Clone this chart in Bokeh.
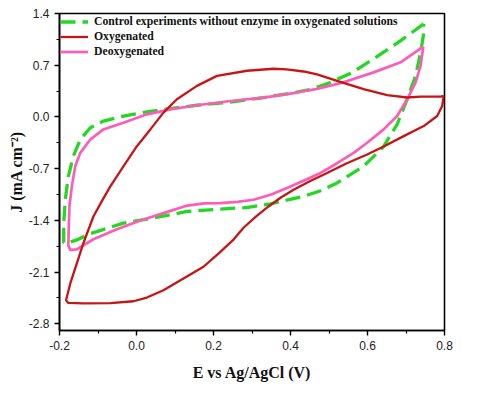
from bokeh.plotting import figure
from bokeh.models import Range1d, FixedTicker, Legend, LegendItem, CustomJSTickFormatter
from bokeh.embed import file_html
from bokeh.resources import INLINE

# Control experiments without enzyme (oxygenated) - dashed green loop
ctrl_E = [0.746, 0.72, 0.677, 0.62, 0.56, 0.50, 0.45, 0.40, 0.33, 0.244, 0.157, 0.088, 0.027, -0.034,
          -0.086, -0.120, -0.146, -0.164, -0.177, -0.185, -0.189, -0.189, -0.182, -0.155, -0.120, -0.103, -0.034,
          0.027, 0.088, 0.131, 0.218, 0.290, 0.348, 0.434, 0.478, 0.521, 0.59, 0.642, 0.677, 0.703,
          0.725, 0.738, 0.745, 0.746]
ctrl_J = [1.26, 1.16, 1.0, 0.80, 0.60, 0.46, 0.37, 0.32, 0.262, 0.20, 0.158, 0.113, 0.067, 0.012,
          -0.056, -0.146, -0.305, -0.532, -0.804, -1.121, -1.438, -1.70, -1.71, -1.665, -1.58, -1.552, -1.438,
          -1.384, -1.325, -1.28, -1.248, -1.225, -1.176, -1.076, -1.0, -0.894, -0.668, -0.40, -0.1, 0.239,
          0.557, 0.875, 1.1, 1.26]

# Oxygenated - red loop
oxy_E = [0.798, 0.790, 0.772, 0.738, 0.703, 0.651, 0.590, 0.521, 0.469, 0.434, 0.390, 0.356, 0.287, 0.209,
         0.157, 0.105, 0.070, 0.036, 0.001, -0.034, -0.068, -0.090, -0.112, -0.138, -0.155, -0.172,
         -0.183, -0.177, -0.138, -0.068, -0.008, 0.027, 0.070, 0.122, 0.174, 0.215, 0.252, 0.278, 0.310,
         0.343, 0.375, 0.408, 0.450, 0.495, 0.545, 0.599, 0.642, 0.694, 0.746, 0.781, 0.794, 0.798]
oxy_J = [0.284, 0.276, 0.276, 0.276, 0.263, 0.294, 0.376, 0.488, 0.575, 0.615, 0.645, 0.652, 0.625, 0.556,
         0.420, 0.239, 0.058, -0.169, -0.396, -0.668, -0.940, -1.14, -1.348, -1.710, -1.982, -2.254,
         -2.482, -2.518, -2.525, -2.52, -2.495, -2.445, -2.346, -2.187, -2.028, -1.84, -1.66, -1.50, -1.35,
         -1.212, -1.09, -0.985, -0.87, -0.758, -0.63, -0.509, -0.40, -0.26, -0.124, 0.012, 0.148, 0.284]

# Deoxygenated - pink loop
deoxy_E = [0.745, 0.686, 0.616, 0.53, 0.469, 0.417, 0.330, 0.244, 0.157, 0.088, 0.027, -0.034, -0.086,
           -0.120, -0.146, -0.159, -0.168, -0.174, -0.176, -0.177, -0.172, -0.155, -0.112, -0.051, 0.010,
           0.070, 0.132, 0.175, 0.218, 0.262, 0.304, 0.350, 0.391, 0.435, 0.478, 0.520, 0.564, 0.599,
           0.642, 0.677, 0.703, 0.725, 0.738, 0.745]
deoxy_J = [0.951, 0.739, 0.603, 0.457, 0.38, 0.33, 0.262, 0.216, 0.158, 0.103, 0.035, -0.078, -0.169,
           -0.305, -0.486, -0.668, -0.940, -1.2, -1.5, -1.74, -1.80, -1.792, -1.656, -1.520, -1.403,
           -1.302, -1.20, -1.17, -1.166, -1.15, -1.121, -1.05, -0.962, -0.86, -0.758, -0.63, -0.486, -0.350,
           -0.169, 0.012, 0.239, 0.467, 0.693, 0.951]

x_ticks = [-0.2, 0.0, 0.2, 0.4, 0.6, 0.8]
x_minor = [-0.1, 0.1, 0.3, 0.5, 0.7]
y_ticks = [-2.8, -2.1, -1.4, -0.7, 0.0, 0.7, 1.4]
y_minor = [-2.45, -1.75, -1.05, -0.35, 0.35, 1.05]

legend_labels = ["Control experiments without enzyme in oxygenated solutions", "Oxygenated", "Deoxygenated"]
colors = ["#22d822", "#c81414", "#ff5cb8"]

p = figure(frame_width=385, frame_height=317, output_backend="svg", toolbar_location=None,
           x_range=Range1d(-0.2, 0.8), y_range=Range1d(-2.891, 1.4),
           min_border_left=59, min_border_top=13, min_border_right=20, min_border_bottom=52)
p.background_fill_color = "white"
p.border_fill_color = "white"
p.xgrid.visible = False
p.ygrid.visible = False
p.outline_line_color = "black"
p.outline_line_width = 1.6

r_ctrl = p.line(ctrl_E, ctrl_J, line_color=colors[0], line_width=3.3, line_dash="15 7")
r_deoxy = p.line(deoxy_E, deoxy_J, line_color=colors[2], line_width=2.7)
r_oxy = p.line(oxy_E, oxy_J, line_color=colors[1], line_width=2.3)

fmt = CustomJSTickFormatter(code="return tick.toFixed(1);")
for ax, major, minor in ((p.xaxis[0], x_ticks, x_minor), (p.yaxis[0], y_ticks, y_minor)):
    ax.ticker = FixedTicker(ticks=major, minor_ticks=minor)
    ax.formatter = fmt
    ax.axis_line_width = 1.6
    ax.major_tick_in = 0
    ax.major_tick_out = 5
    ax.minor_tick_in = 0
    ax.minor_tick_out = 3
    ax.major_tick_line_width = 1.4
    ax.minor_tick_line_width = 1.2
    ax.major_label_text_font = "Liberation Sans"
    ax.major_label_text_font_size = "12px"
    ax.major_label_text_color = "#222222"
    ax.axis_label_text_font = "Liberation Serif"
    ax.axis_label_text_font_style = "bold"
    ax.axis_label_text_font_size = "16px"
    ax.axis_label_text_color = "#111111"
    ax.major_label_standoff = 5

p.xaxis.axis_label = "E vs Ag/AgCl (V)"
p.yaxis.axis_label = "J (mA cm\u207b\u00b2)"
p.xaxis.axis_label_standoff = 11
p.yaxis.axis_label_standoff = 1

legend = Legend(items=[LegendItem(label=legend_labels[0], renderers=[r_ctrl]),
                       LegendItem(label=legend_labels[1], renderers=[r_oxy]),
                       LegendItem(label=legend_labels[2], renderers=[r_deoxy])],
                location="top_left")
legend.border_line_color = None
legend.background_fill_alpha = 0
legend.margin = 1
legend.padding = 0
legend.spacing = 0
legend.glyph_width = 28
legend.glyph_height = 15
legend.label_height = 15
legend.label_standoff = 6
legend.label_text_font = "Liberation Serif"
legend.label_text_font_style = "bold"
legend.label_text_font_size = "11.7px"
legend.label_text_color = "#111111"
p.add_layout(legend)

open("out.html", "w").write(file_html(p, INLINE))
